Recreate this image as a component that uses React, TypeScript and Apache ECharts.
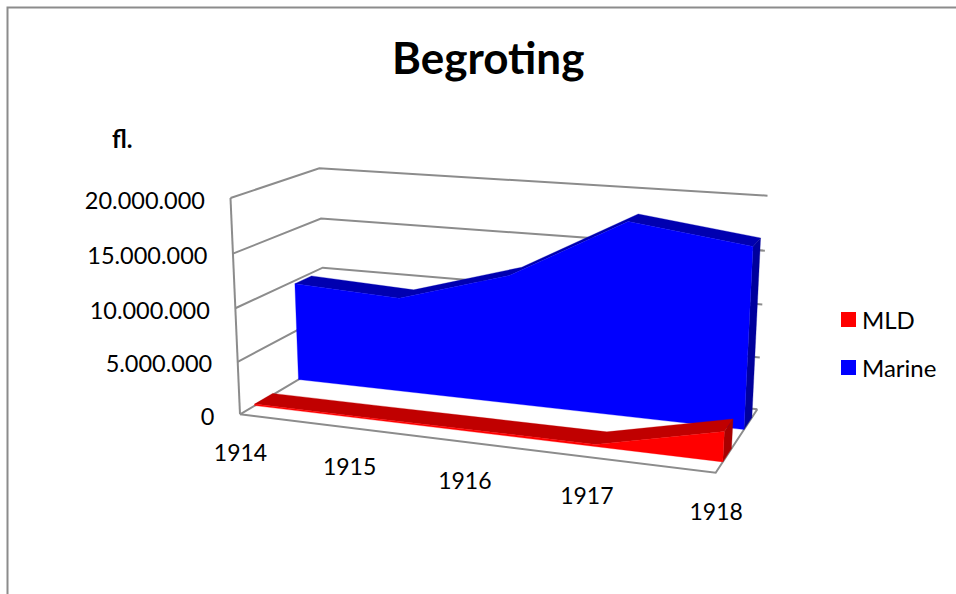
import React, { useEffect, useRef } from "react";
import * as echarts from "echarts";

const categories = ["1914", "1915", "1916", "1917", "1918"];
const marine = [9700000, 9200000, 12300000, 18100000, 16700000];
const mld = [150000, 150000, 180000, 200000, 2700000];
const yTicks = [0, 5000000, 10000000, 15000000, 20000000];
const title = "Begroting";
const unit = "fl.";

const FONT = "Lato";
const GRID = { left: 100, top: 100, width: 400, height: 400 };
const GRAY = "#8c8c8c";
// projected box corners: F/B front/back, L/R left/right, B/T bottom/top
const C = {
  flb: [240, 414.3], flt: [230.5, 198],
  blb: [326, 363.2], blt: [319.3, 168.3],
  frb: [715.7, 472.7], frt: [728, 236.7],
  brb: [757.3, 409.3], brt: [767.5, 195.7],
};
const warp = (t: number, k: number) => t / (t + k * (1 - t));
const mix = (a: number[], b: number[], t: number) => [a[0] + (b[0] - a[0]) * t, a[1] + (b[1] - a[1]) * t];
function place(u: number, v: number, w: number) {
  const U = warp(u, 1.12);
  const V = warp(v, 1.04);
  const fb = mix(C.flb, C.frb, U), ft = mix(C.flt, C.frt, U);
  const bb = mix(C.blb, C.brb, U), bt = mix(C.blt, C.brt, U);
  return mix(mix(fb, ft, V), mix(bb, bt, V), w);
}
function project(api: any, cat: number, value: number, w: number) {
  const p = api.coord([cat, value]);
  return place((p[0] - GRID.left) / GRID.width, (GRID.top + GRID.height - p[1]) / GRID.height, w);
}
const fmt = (n: number) => String(n).replace(/\B(?=(\d{3})+$)/g, ".");

function areaSeries(name: string, values: number[], w1: number, w2: number, face: string, top: string, side: string) {
  return {
    name,
    type: "custom",
    coordinateSystem: "cartesian2d",
    itemStyle: { color: face },
    silent: true,
    data: values.map((v, i) => [i, v]),
    renderItem: (params: any, api: any) => {
      if (params.dataIndex !== 0) return null;
      const n = values.length;
      const frontTop = values.map((v, i) => project(api, i, v, w1));
      const backTop = values.map((v, i) => project(api, i, v, w2));
      const frontBase = [project(api, n - 1, 0, w1), project(api, 0, 0, w1)];
      const poly = (points: number[][], fill: string) => ({
        type: "polygon",
        shape: { points },
        style: { fill, stroke: fill, lineWidth: 0.3 },
      });
      return {
        type: "group",
        children: [
          poly([...frontTop, ...backTop.slice().reverse()], top),
          poly([frontTop[n - 1], backTop[n - 1], project(api, n - 1, 0, w2), frontBase[0]], side),
          poly([...frontTop, ...frontBase], face),
        ],
      };
    },
  };
}

const frameSeries = {
  type: "custom",
  coordinateSystem: "cartesian2d",
  silent: true,
  data: [[0, 0]],
  renderItem: (_params: any, api: any) => {
    const last = categories.length - 1;
    const line = (points: number[][]) => ({
      type: "polyline",
      shape: { points },
      style: { stroke: GRAY, lineWidth: 2, fill: "none" },
    });
    const children: any[] = [];
    const top = yTicks[yTicks.length - 1];
    children.push(line([project(api, 0, 0, 0), project(api, 0, top, 0)]));
    yTicks.forEach((t) => {
      children.push(line([project(api, 0, t, 0), project(api, 0, t, 1), project(api, last, t, 1)]));
      const p = project(api, 0, t, 0);
      children.push({
        type: "text",
        style: {
          text: fmt(t),
          x: p[0] - 25.5,
          y: p[1] + 1.5,
          align: "right",
          verticalAlign: "middle",
          font: `23.5px ${FONT}`,
          fill: "#000",
        },
      });
    });
    children.push(line([project(api, 0, 0, 0), project(api, last, 0, 0), project(api, last, 0, 1)]));
    categories.forEach((c, i) => {
      const p = project(api, i, 0, 0);
      children.push({
        type: "text",
        style: {
          text: c,
          x: p[0] + 0.5,
          y: p[1] + 38,
          align: "center",
          verticalAlign: "middle",
          font: `23px ${FONT}`,
          fill: "#000",
        },
      });
    });
    return { type: "group", children };
  },
};

export default function App() {
  const ref = useRef<HTMLDivElement>(null);
  useEffect(() => {
    const chart = echarts.init(ref.current!, undefined, { renderer: "svg" });
    chart.setOption({
      animation: false,
      backgroundColor: "#fff",
      title: {
        text: title,
        left: 387,
        top: 30,
        textStyle: { fontFamily: FONT, fontWeight: "bold", fontSize: 44, color: "#000" },
      },
      legend: {
        data: ["MLD", "Marine"],
        orient: "vertical",
        left: 836,
        top: 301,
        itemWidth: 15,
        itemHeight: 15,
        itemGap: 21,
        icon: "rect",
        selectedMode: false,
        textStyle: { fontFamily: FONT, fontSize: 24, color: "#000", lineHeight: 27, padding: [0, 0, 0, 1] },
      },
      grid: GRID,
      xAxis: { type: "category", data: categories, boundaryGap: false, show: false },
      yAxis: { type: "value", min: 0, max: yTicks[yTicks.length - 1], interval: yTicks[1], show: false },
      graphic: [
        {
          type: "polyline",
          shape: { points: [[7.5, 594], [7.5, 7.5], [956, 7.5]] },
          style: { stroke: GRAY, lineWidth: 2, fill: "none" },
        },
        {
          type: "text",
          style: { text: unit, x: 112, y: 126, font: `bold 24px ${FONT}`, fill: "#000" },
        },
      ],
      series: [
        frameSeries,
        areaSeries("Marine", marine, 0.68, 0.87, "#0000ff", "#0000b0", "#00009c"),
        areaSeries("MLD", mld, 0.17, 0.38, "#ff0000", "#c00000", "#a80000"),
      ],
    });
    return () => chart.dispose();
  }, []);
  return <div ref={ref} style={{ position: "absolute", left: 0, top: 0, width: 956, height: 594 }} />;
}
